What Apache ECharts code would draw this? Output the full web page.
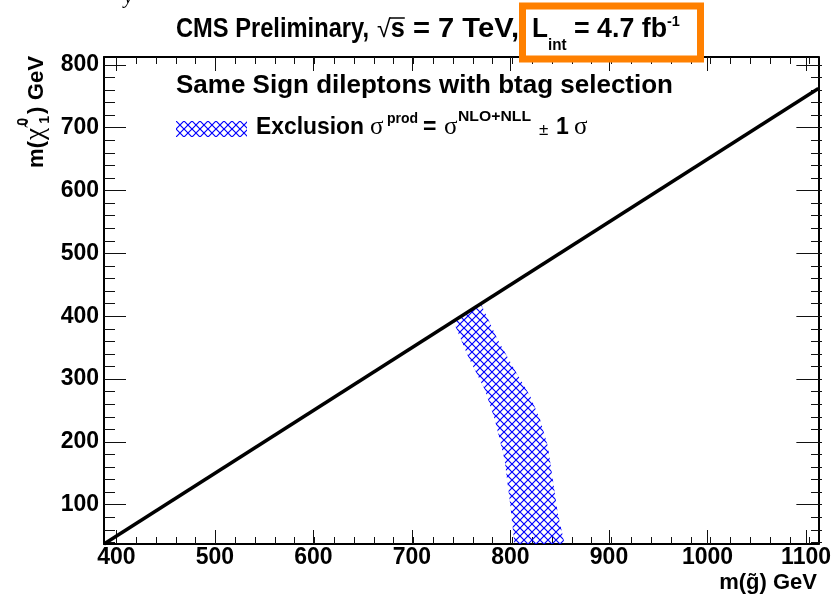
<!DOCTYPE html>
<html>
<head>
<meta charset="utf-8">
<script src="https://cdn.jsdelivr.net/npm/echarts@6/dist/echarts.min.js"></script>
<style>
  html, body { margin: 0; padding: 0; background: #fff; }
  #chart { width: 834px; height: 595px; }
</style>
</head>
<body>
<div id="chart"></div>
<script>
// Axis ranges (GeV)
const gluinoRange = [387.5, 1112.5];
const neutralinoRange = [37.5, 812.5];

// Labelled (major) tick values
const gluinoTicks = [400, 500, 600, 700, 800, 900, 1000, 1100];
const neutralinoTicks = [100, 200, 300, 400, 500, 600, 700, 800];

// Kinematic limit m(chi) = m(g) - 2 m(top)
const diagonalGluino = [387.5, 1112.5];
const diagonalNeutralino = [37.5, 762.5];

// Exclusion band: -1 sigma edge (low gluino mass side) and +1 sigma edge
const bandLowGluino = [742, 757, 774, 784, 794, 800, 804];
const bandLowNeutralino = [392, 336, 283, 236, 172, 97, 37.5];
const bandHighGluino = [770, 787, 806, 820, 830, 838, 843, 848, 855];
const bandHighNeutralino = [420, 363, 310, 273, 236, 193, 140, 87, 37.5];

// Minor tick positions every 20 GeV
function minorTicks(range) {
  const out = [];
  for (let v = Math.ceil(range[0] / 20) * 20; v <= range[1]; v += 20) out.push(v);
  return out;
}
const gluinoMinor = minorTicks(gluinoRange);
const neutralinoMinor = minorTicks(neutralinoRange);

const SANS = '"Liberation Sans", Arial, Helvetica, sans-serif';
const SERIF = '"Liberation Serif", "Times New Roman", serif';

// Blue cross-hatch fill
function makeHatch(size, color) {
  const c = document.createElement('canvas');
  c.width = size; c.height = size;
  const g = c.getContext('2d');
  g.strokeStyle = color;
  g.lineWidth = 1.2;
  g.beginPath();
  g.moveTo(0, 0); g.lineTo(size, size);
  g.moveTo(size, 0); g.lineTo(0, size);
  g.stroke();
  return c;
}
const hatch = makeHatch(8, '#0000ff');

// Text layout helpers (sub/superscripts as separate runs)
const mctx = document.createElement('canvas').getContext('2d');
function measure(text, size, weight, fam, style) {
  mctx.font = `${style} ${weight} ${size}px ${fam}`;
  return mctx.measureText(text).width;
}
function layoutRun(pieces, x0, base) {
  const els = [];
  let x = x0;
  const pos = [];
  pieces.forEach(p => {
    const fam = p.serif ? SERIF : SANS;
    const weight = p.weight || 'bold';
    const style = p.italic ? 'italic' : 'normal';
    if (p.at !== undefined) x = p.at;
    x += p.gap || 0;
    const natural = measure(p.text, p.size, weight, fam, style);
    let sx = p.sx || 1;
    if (p.fit) sx = p.fit / natural;
    if (p.to !== undefined) sx = (p.to - x) / natural;
    const k = p.serif ? 0.3375 : 0.3465;
    els.push({
      type: 'text', x: x, y: base + (p.dy || 0) - k * p.size, scaleX: sx, z: 50,
      style: {
        text: p.text, fontSize: p.size, fontWeight: weight, fontFamily: fam,
        fontStyle: style, fill: '#000', align: 'left', verticalAlign: 'middle'
      }
    });
    pos.push({ x: x, w: natural * sx });
    if (!p.stack) x += natural * sx;
  });
  return { els: els, pos: pos, end: x };
}

// Title line
const title = layoutRun([
  { text: 'CMS Preliminary,', size: 27.5, at: 176, fit: 193 },
  { text: '\u221A', size: 25, weight: 'normal', at: 377 },
  { text: 's', size: 27.5, sx: 0.92 },
  { text: ' = 7 TeV,', size: 27.5, to: 519 },
  { text: 'L', size: 27.5, at: 532, sx: 0.95 },
  { text: 'int', size: 16, dy: 12, sx: 0.95 },
  { text: ' = 4.7 fb', size: 27.5, to: 667 },
  { text: '-1', size: 14.5, dy: -12 }
], 0, 39);
const sqrtBar = {
  type: 'line', z: 50,
  shape: { x1: title.pos[1].x + title.pos[1].w - 1, y1: 18, x2: title.pos[2].x + title.pos[2].w, y2: 18 },
  style: { stroke: '#000', lineWidth: 1.5 }
};

// Plot caption
const caption = layoutRun([
  { text: 'Same Sign dileptons with btag selection', size: 26, at: 176, fit: 497 }
], 0, 95);

// Legend entry
const legendText = layoutRun([
  { text: 'Exclusion', size: 23, at: 256, fit: 108 },
  { text: '\u03C3', size: 25, weight: 'normal', serif: true, at: 370 },
  { text: 'prod', size: 14, dy: -12, at: 387 },
  { text: '=', size: 23, at: 423 },
  { text: '\u03C3', size: 25, weight: 'normal', serif: true, at: 444 },
  { text: 'NLO+NLL', size: 14, dy: -14, at: 458, fit: 73 },
  { text: '\u00B1', size: 17, weight: 'normal', at: 539 },
  { text: '1', size: 23, at: 556 },
  { text: '\u03C3', size: 25, weight: 'normal', serif: true, at: 574 }
], 0, 136);

// Axis titles
const xTitlePieces = [{ text: 'm(g\u0303) GeV', size: 22 }];
const xTitleWidth = layoutRun(xTitlePieces, 0, 0).end;
const xTitle = layoutRun(xTitlePieces, 817 - xTitleWidth, 591);

const yTitle = layoutRun([
  { text: 'm(', size: 22 },
  { text: '\u03C7\u0303', size: 27, weight: 'normal', serif: true, gap: 1 },
  { text: '0', size: 14, dy: -17, gap: 2, stack: true },
  { text: '1', size: 14, dy: 5, gap: 2 },
  { text: ')', size: 22, gap: 2 },
  { text: ' GeV', size: 22 }
], 0, 0);
const yTitleScale = 112 / yTitle.end;

const chart = echarts.init(document.getElementById('chart'), null, { renderer: 'canvas' });

const gridRect = { left: 104, top: 57, right: 12, bottom: 51 };
const plainNumber = v => String(v);

function xAxisDef(grid, pos, ticks, len, withLine, withLabels) {
  return {
    type: 'value', gridIndex: grid, position: pos,
    min: gluinoRange[0], max: gluinoRange[1],
    axisLine: { show: withLine, onZero: false, lineStyle: { color: '#000', width: 2 } },
    axisTick: { show: true, inside: true, length: len, customValues: ticks, lineStyle: { color: '#111', width: 1 } },
    axisLabel: withLabels ? {
      show: true, customValues: gluinoTicks, formatter: plainNumber, margin: 2, color: '#000',
      fontSize: 23, fontWeight: 'bold', fontFamily: SANS
    } : { show: false },
    splitLine: { show: false }, axisPointer: { show: false }
  };
}
function yAxisDef(grid, pos, ticks, len, withLine, withLabels) {
  return {
    type: 'value', gridIndex: grid, position: pos,
    min: neutralinoRange[0], max: neutralinoRange[1],
    axisLine: { show: withLine, onZero: false, lineStyle: { color: '#000', width: 2 } },
    axisTick: { show: true, inside: true, length: len, customValues: ticks, lineStyle: { color: '#111', width: 1 } },
    axisLabel: withLabels ? {
      show: true, customValues: neutralinoTicks, formatter: plainNumber, margin: 5, color: '#000',
      fontSize: 23, fontWeight: 'bold', fontFamily: SANS
    } : { show: false },
    splitLine: { show: false }, axisPointer: { show: false }
  };
}

const bandPolygon = [];
for (let i = 0; i < bandLowGluino.length; i++) bandPolygon.push([bandLowGluino[i], bandLowNeutralino[i]]);
for (let i = bandHighGluino.length - 1; i >= 0; i--) bandPolygon.push([bandHighGluino[i], bandHighNeutralino[i]]);

const diagonal = diagonalGluino.map((g, i) => [g, diagonalNeutralino[i]]);

chart.setOption({
  animation: false,
  backgroundColor: '#fff',
  grid: [Object.assign({}, gridRect), Object.assign({}, gridRect)],
  xAxis: [
    xAxisDef(0, 'bottom', gluinoTicks, 14, true, true),
    xAxisDef(0, 'top', gluinoTicks, 14, true, false),
    xAxisDef(1, 'bottom', gluinoMinor, 7, false, false),
    xAxisDef(1, 'top', gluinoMinor, 7, false, false)
  ],
  yAxis: [
    yAxisDef(0, 'left', neutralinoTicks, 22, true, true),
    yAxisDef(0, 'right', neutralinoTicks, 22, true, false),
    yAxisDef(1, 'left', neutralinoMinor, 11, false, false),
    yAxisDef(1, 'right', neutralinoMinor, 11, false, false)
  ],
  series: [
    {
      type: 'custom', name: 'Exclusion band', xAxisIndex: 0, yAxisIndex: 0, z: 3,
      data: bandPolygon,
      renderItem: function (params, api) {
        if (params.dataIndex !== 0) return null;
        const pts = bandPolygon.map(p => api.coord(p));
        return {
          type: 'polygon', shape: { points: pts },
          style: { fill: { image: hatch, repeat: 'repeat' }, stroke: null }
        };
      }
    },
    {
      type: 'line', name: 'Kinematic limit', xAxisIndex: 0, yAxisIndex: 0, z: 5,
      data: diagonal, symbol: 'none', silent: true,
      lineStyle: { color: '#000', width: 3.5 }
    }
  ],
  graphic: [
    // fragment of text above the frame
    { type: 'text', x: 124, y: -12, z: 50,
      style: { text: 'y', fontSize: 20, fontStyle: 'italic', fontFamily: SERIF, fill: '#000', verticalAlign: 'top' } },
    ...title.els,
    sqrtBar,
    ...caption.els,
    { type: 'rect', x: 176, y: 121, z: 50, shape: { width: 71, height: 16 },
      style: { fill: { image: hatch, repeat: 'repeat' }, stroke: null } },
    ...legendText.els,
    ...xTitle.els,
    { type: 'group', x: 45, y: 168, rotation: Math.PI / 2, scaleX: yTitleScale, children: yTitle.els },
    { type: 'rect', z: 60, shape: { x: 522.5, y: 6, width: 178, height: 53 },
      style: { fill: null, stroke: '#ff8000', lineWidth: 7 } }
  ]
});
</script>
</body>
</html>
